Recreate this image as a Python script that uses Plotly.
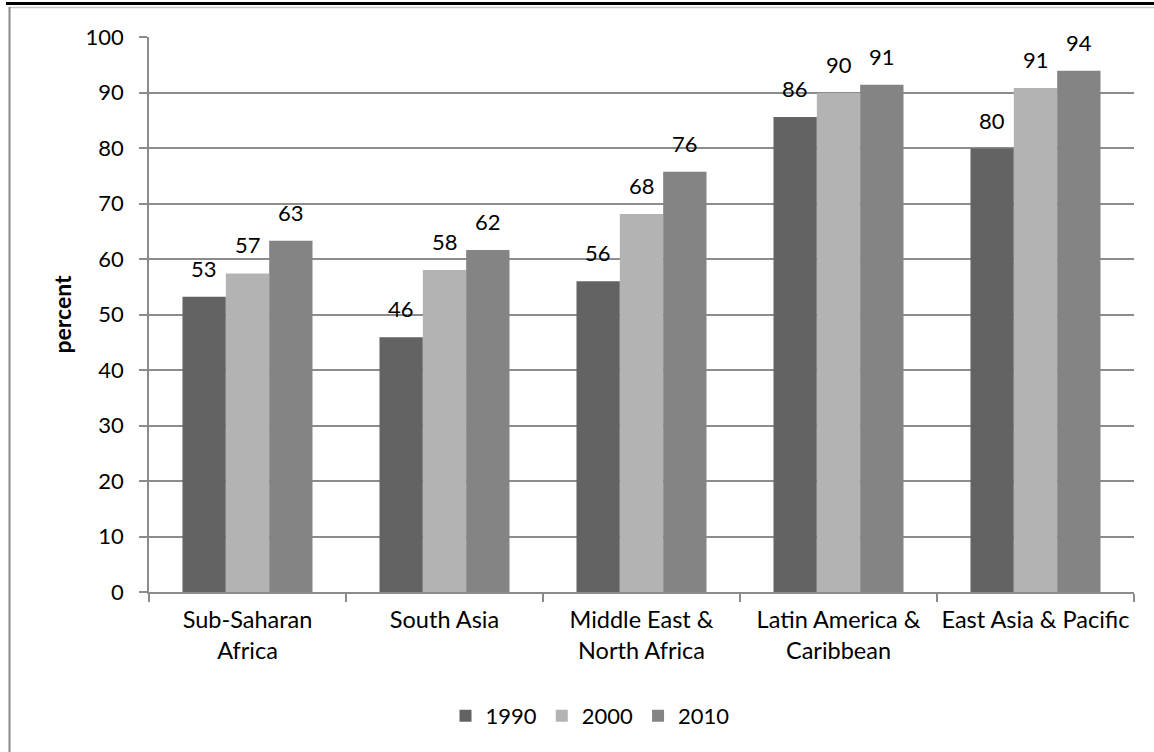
import plotly.graph_objects as go

categories = ["Sub-Saharan<br>Africa", "South Asia", "Middle East &<br>North Africa",
              "Latin America &<br>Caribbean", "East Asia & Pacific"]
years = ["1990", "2000", "2010"]
v1990 = [53.2, 45.9, 56.0, 85.6, 79.9]
v2000 = [57.4, 58.0, 68.1, 89.9, 90.8]
v2010 = [63.3, 61.6, 75.7, 91.4, 93.9]
colors = ["#636363", "#b3b3b3", "#848484"]
y_ticks = [0, 10, 20, 30, 40, 50, 60, 70, 80, 90, 100]

W, H = 1154, 752
L, R, T, B = 149, 20, 37, 160
pw, ph = W - L - R, H - T - B
BARGAP = 0.34

def px(xp):
    return (xp - L) / pw

def py(yp):
    return (H - B - yp) / ph

FONT = "Lato"
FS = 22
fig = go.Figure()
series = [v1990, v2000, v2010]
for name, vals, col in zip(years, series, colors):
    fig.add_trace(go.Bar(
        x=categories, y=vals, name=name,
        marker=dict(color=col, line=dict(width=0)),
    ))

# data labels above each bar
group_w = pw / len(categories)
bar_w = group_w * (1 - BARGAP) / len(series)
for si, vals in enumerate(series):
    shift = (si - (len(series) - 1) / 2) * bar_w
    for cat, v in zip(categories, vals):
        fig.add_annotation(x=cat, y=v, xref="x", yref="y", text=f"{v:.0f}",
                           showarrow=False, yanchor="bottom", xanchor="center",
                           xshift=shift, yshift=13,
                           font=dict(family=FONT, size=FS, color="#000000"))

fig.update_layout(
    width=W, height=H,
    margin=dict(l=L, r=R, t=T, b=B, autoexpand=False),
    paper_bgcolor="white", plot_bgcolor="white",
    barmode="group", bargap=BARGAP, bargroupgap=0,
    font=dict(family=FONT, size=FS, color="#000000"),
    showlegend=True,
    legend=dict(orientation="h", x=px(590), xanchor="center", y=py(716), yanchor="middle",
                font=dict(family=FONT, size=FS), traceorder="normal"),
)
fig.update_xaxes(
    showline=True, linecolor="#8c8c8c", linewidth=1.5,
    ticks="outside", ticklen=8, tickcolor="#8c8c8c", tickwidth=1.5,
    tickson="boundaries", showgrid=False, ticklabelstandoff=6,
    tickangle=0, automargin=False,
    tickfont=dict(family=FONT, size=23.5),
)
fig.update_yaxes(
    range=[0, 100], tickvals=y_ticks,
    showline=True, linecolor="#8c8c8c", linewidth=1.5,
    ticks="outside", ticklen=8, tickcolor="#8c8c8c", tickwidth=1.5,
    showgrid=True, gridcolor="#8c8c8c", gridwidth=1.5,
    zeroline=False, ticklabelstandoff=11, automargin=False,
    tickfont=dict(family=FONT, size=FS),
    title=dict(text="<b>percent</b>", font=dict(family=FONT, size=23), standoff=8),
)

# frame lines around the figure
fig.add_shape(type="line", xref="paper", yref="paper",
              x0=px(6), x1=px(1154), y0=py(3.5), y1=py(3.5),
              line=dict(color="#000000", width=3))
fig.add_shape(type="line", xref="paper", yref="paper",
              x0=px(9.5), x1=px(1154), y0=py(7.5), y1=py(7.5),
              line=dict(color="#c8c8c8", width=1.5))
fig.add_shape(type="line", xref="paper", yref="paper",
              x0=px(9.5), x1=px(9.5), y0=py(7), y1=py(752),
              line=dict(color="#8a8a8a", width=2))

fig.write_html("out.html")
